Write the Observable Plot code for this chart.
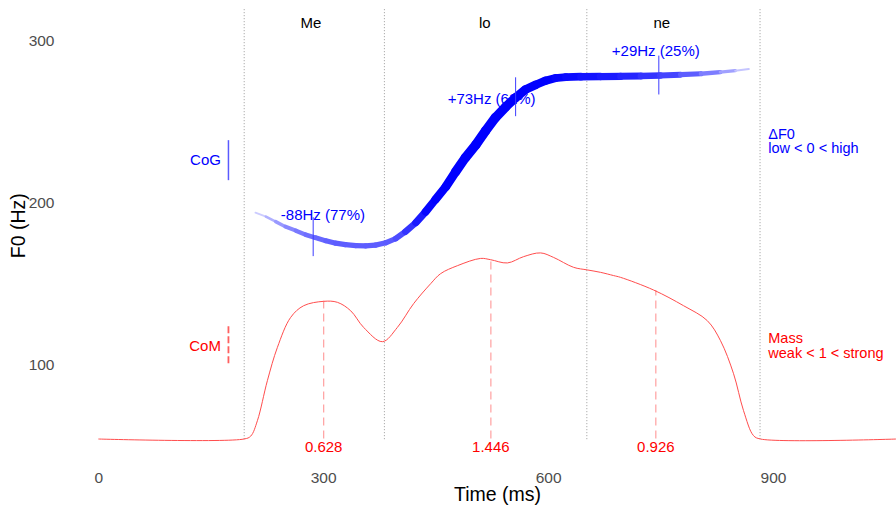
<!DOCTYPE html>
<html><head><meta charset="utf-8">
<script src="https://cdn.jsdelivr.net/npm/d3@7"></script>
<script src="https://cdn.jsdelivr.net/npm/@observablehq/plot@0.6"></script>
<style>body{margin:0;background:#fff;}</style>
</head><body><div id="chart"></div>
<script>
// Axis ticks
const xTicks = [0, 300, 600, 900];
const yTicks = [100, 200, 300];

// Syllable boundaries (ms) and labels
const boundaries = [194, 381, 651, 882];
const syllables = ["Me", "lo", "ne"];
const syllableTime = [283, 515, 751];

// Mass (CoM) curve, plotted on the F0 axis
const massTime = [0, 193.7, 202.7, 211.6, 224.9, 238.3, 256, 273.3, 300, 318.3, 336, 353.3, 378.3, 398.3, 420, 442.7, 456, 478.3, 509.3, 522.7, 545, 566.7, 589.3, 606.7, 633.3, 651.6, 669.3, 686.7, 696, 740, 780, 811.6, 829.3, 846.7, 860, 873.3, 882.7, 1064];
const massHz   = [54.1, 54.1, 55.9, 65.4, 90.1, 110.7, 129.2, 136.4, 139.1, 138.5, 133.3, 123, 114.2, 123.0, 137.7, 150, 156.2, 161.1, 165.6, 164.8, 162.8, 166.7, 169, 166.2, 160.1, 158.5, 157, 155, 153.9, 146.1, 136.4, 127.2, 114.8, 94.4, 71.6, 56.2, 54.1, 54.1];

// F0 curve with strength (drives thickness / saturation)
const f0Time = [209, 223, 236, 249, 263, 276, 289, 303, 316, 329, 343, 356, 369, 383, 396, 409, 423, 436, 449, 463, 476, 489, 503, 516, 529, 543, 556, 569, 583, 596, 609, 623, 643, 669, 696, 723, 749, 776, 803, 829, 849, 867];
const f0Hz   = [193.8, 191.4, 188.3, 185.2, 182.7, 180.2, 178.4, 176.5, 175.0, 174.1, 173.5, 173.3, 173.8, 175.3, 177.8, 182.1, 187.7, 194.4, 201.9, 209.9, 219.1, 227.8, 235.8, 244.4, 252.5, 259.3, 264.8, 269.8, 272.8, 275.3, 276.9, 277.5, 277.8, 277.9, 278.0, 278.2, 278.5, 279.0, 279.6, 280.6, 281.5, 282.5];
const f0Strength = [0.05, 0.15, 0.25, 0.32, 0.38, 0.42, 0.45, 0.48, 0.5, 0.5, 0.5, 0.5, 0.5, 0.5, 0.52, 0.6, 0.7, 0.78, 0.85, 0.9, 0.95, 1, 1, 1, 1, 0.98, 0.95, 0.92, 0.88, 0.85, 0.82, 0.8, 0.78, 0.75, 0.72, 0.68, 0.62, 0.55, 0.45, 0.32, 0.2, 0.05];

// Centre of gravity annotations (ΔF0)
const cogTime = [286, 556, 747];
const cogHz = [178.7, 265.1, 278.5];
const cogLabel = ["-88Hz (77%)", "+73Hz (62%)", "+29Hz (25%)"];
const cogLabelTime = [299, 524, 743];
const cogLabelHz = [192, 264.2, 293.4];

// Centre of mass annotations
const comTime = [300, 523, 743];
const comHz = [139.1, 164.8, 145.8];
const comLabel = ["0.628", "1.446", "0.926"];

const baseHz = 54.1;

const blueOf = s => d3.interpolateRgb("#e8e8ff", "#0000ff")(Math.min(1, s * 1.2));
const widthOf = s => 1 + 8.5 * s;
const segs = d3.range(f0Time.length - 1);
const segS = i => (f0Strength[i] + f0Strength[i + 1]) / 2;

const chart = Plot.plot({
  width: 896, height: 505,
  marginLeft: 57, marginRight: 0, marginTop: 7, marginBottom: 65.5,
  x: {domain: [-55, 1064], axis: null},
  y: {domain: [53.5, 320.5], axis: null},
  color: {type: "identity"},
  style: {fontFamily: "'Liberation Sans', Arial, Helvetica, sans-serif", fontSize: "15px", background: "white", overflow: "visible"},
  marks: [
    // tick labels
    Plot.text(xTicks, {x: d => d, frameAnchor: "bottom", lineAnchor: "middle", dy: 38.5, text: d => String(d), fontSize: 15.5, fill: "#4d4d4d"}),
    Plot.text(yTicks, {y: d => d, frameAnchor: "left", textAnchor: "end", dx: -3, text: d => String(d), fontSize: 15.5, fill: "#4d4d4d"}),
    // axis titles
    Plot.text(["Time (ms)"], {frameAnchor: "bottom", lineAnchor: "middle", textAnchor: "middle", dx: 20.5, dy: 54.5, fontSize: 19.5, fill: "black"}),
    Plot.text(["F0 (Hz)"], {frameAnchor: "left", textAnchor: "middle", lineAnchor: "middle", dx: -39, dy: 2, rotate: -90, fontSize: 19.5, fill: "black"}),
    Plot.ruleX(boundaries, {x: d => d, y1: 53.7, y2: 320.4, stroke: "#9a9a9a", strokeWidth: 1, strokeDasharray: "1,2"}),
    Plot.text(syllables, {x: (d, i) => syllableTime[i], y: 311.1, text: d => d, fontSize: 15, fill: "black"}),
    Plot.ruleX(comTime, {x: d => d, y1: baseHz, y2: (d, i) => comHz[i], stroke: "#ffa0a0", strokeWidth: 1.2, strokeDasharray: "8,5"}),
    Plot.line(massTime, {x: d => d, y: (d, i) => massHz[i], curve: "catmull-rom", stroke: "#ff4d4d", strokeWidth: 1}),
    Plot.text(comLabel, {x: (d, i) => comTime[i], y: baseHz, dy: 8, text: d => d, fontSize: 15, fill: "#ff0000"}),
    Plot.text(cogLabel, {x: (d, i) => cogLabelTime[i], y: (d, i) => cogLabelHz[i], text: d => d, fontSize: 15, fill: "#0000ff"}),
    Plot.link(segs, {
      x1: i => f0Time[i], y1: i => f0Hz[i], x2: i => f0Time[i + 1], y2: i => f0Hz[i + 1],
      stroke: i => blueOf(segS(i)), strokeWidth: i => widthOf(segS(i)), strokeLinecap: "round"
    }),
    Plot.ruleX(cogTime, {x: d => d, y1: (d, i) => cogHz[i] - 12, y2: (d, i) => cogHz[i] + 12, stroke: "#3c3cff", strokeWidth: 1}),
    // left legend-like keys
    Plot.text(["CoG"], {x: 163, y: 226, textAnchor: "end", fontSize: 15, fill: "#0000ff"}),
    Plot.ruleX([173], {x: d => d, y1: 213.6, y2: 238.3, stroke: "#5a5aff", strokeWidth: 1.5}),
    Plot.text(["CoM"], {x: 163, y: 111.7, textAnchor: "end", fontSize: 15, fill: "#ff0000"}),
    Plot.ruleX([173], {x: d => d, y1: 100.6, y2: 124, stroke: "#ff6060", strokeWidth: 1.8, strokeDasharray: "7,3"}),
    // right descriptions
    Plot.text(["ΔF0\nlow < 0 < high"], {x: 893, y: 238, textAnchor: "start", lineHeight: 1.0, fontSize: 14.5, fill: "#0000ff"}),
    Plot.text(["Mass\nweak < 1 < strong"], {x: 893, y: 111.5, textAnchor: "start", lineHeight: 1.0, fontSize: 14.5, fill: "#ff0000"})
  ]
});
document.getElementById("chart").appendChild(chart);
</script></body></html>
